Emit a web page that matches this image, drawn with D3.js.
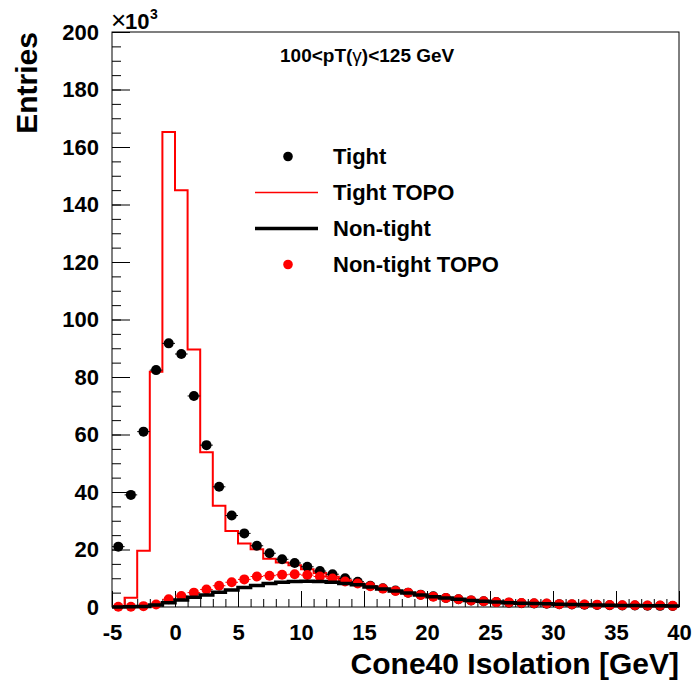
<!DOCTYPE html>
<html>
<head>
<meta charset="utf-8">
<script src="https://cdn.jsdelivr.net/npm/d3@7"></script>
<style>
  html, body { margin: 0; padding: 0; background: #fff; }
  svg { display: block; }
  text { font-family: "Liberation Sans", Arial, Helvetica, sans-serif; font-weight: bold; }
</style>
</head>
<body>
<svg id="chart" width="695" height="683"></svg>
<script>
// ---- data (entries in units of 10^3), 1 GeV bins from -5 to 40 ----
const binEdges = d3.range(-5, 41, 1);
const binCenters = d3.range(-4.5, 40, 1);

const tight = [21.0, 39.0, 61.0, 82.4, 91.7, 88.0, 73.4, 56.3, 41.8, 31.8,
  25.6, 21.3, 18.7, 16.6, 15.3, 14.0, 12.5, 11.4, 10.0, 8.8,
  7.4, 6.5, 5.7, 5.0, 4.3, 3.7, 3.1, 2.7, 2.3, 2.0,
  1.7, 1.5, 1.3, 1.2, 1.1, 1.0, 0.9, 0.8, 0.7, 0.6,
  0.55, 0.5, 0.45, 0.4, 0.35];

const tightTopo = [0.3, 3.2, 19.6, 81.8, 165.2, 145.0, 89.6, 53.8, 35.2, 26.4,
  22.1, 20.1, 16.8, 15.5, 14.5, 13.1, 11.8, 10.5, 9.3, 8.2,
  7.2, 6.3, 5.5, 4.9, 4.2, 3.6, 3.1, 2.7, 2.3, 2.0,
  1.7, 1.5, 1.3, 1.2, 1.1, 1.0, 0.9, 0.8, 0.7, 0.6,
  0.55, 0.5, 0.45, 0.4, 0.35];

const nonTight = [0.0, 0.05, 0.2, 0.7, 1.5, 2.4, 3.4, 4.2, 5.1, 5.9,
  6.8, 7.5, 8.2, 8.6, 8.9, 9.0, 8.9, 8.6, 8.2, 7.7,
  7.0, 6.3, 5.6, 4.9, 4.2, 3.6, 3.1, 2.7, 2.3, 2.0,
  1.7, 1.5, 1.3, 1.2, 1.1, 1.0, 0.9, 0.8, 0.7, 0.6,
  0.55, 0.5, 0.45, 0.4, 0.35];

const nonTightTopo = [0.1, 0.1, 0.3, 0.9, 2.7, 3.8, 5.0, 6.1, 7.4, 8.6,
  9.6, 10.6, 10.9, 11.2, 11.4, 11.1, 10.6, 9.9, 8.9, 8.2,
  7.2, 6.4, 5.6, 5.0, 4.2, 3.6, 3.1, 2.7, 2.3, 2.0,
  1.7, 1.6, 1.4, 1.3, 1.2, 1.0, 1.0, 0.9, 0.8, 0.7,
  0.6, 0.6, 0.5, 0.5, 0.4];

const xTicks = [-5, 0, 5, 10, 15, 20, 25, 30, 35, 40];
const yTicks = [0, 20, 40, 60, 80, 100, 120, 140, 160, 180, 200];
const legendLabels = ["Tight", "Tight TOPO", "Non-tight", "Non-tight TOPO"];
const xTitle = "Cone40 Isolation [GeV]";
const yTitle = "Entries";

// ---- layout ----
const L = 112, R = 679, T = 32, B = 607;
const svg = d3.select("#chart");
const x = d3.scaleLinear().domain([-5, 40]).range([L, R]);
const y = d3.scaleLinear().domain([0, 200]).range([B, T]);
const fmt = d => String(d);

// axes: minor ticks
svg.append("g").attr("transform", `translate(0,${B})`)
  .call(d3.axisBottom(x).tickValues(d3.range(-5, 41, 1)).tickSize(-8).tickFormat(""))
  .call(g => g.select(".domain").remove())
  .call(g => g.selectAll("line").attr("stroke", "#000").attr("stroke-width", 1));
svg.append("g").attr("transform", `translate(${L},0)`)
  .call(d3.axisLeft(y).tickValues(d3.range(0, 201, 5)).tickSize(-9).tickFormat(""))
  .call(g => g.select(".domain").remove())
  .call(g => g.selectAll("line").attr("stroke", "#000").attr("stroke-width", 1));

// major ticks + labels
svg.append("g").attr("transform", `translate(0,${B})`)
  .call(d3.axisBottom(x).tickValues(xTicks).tickSize(-16).tickPadding(17).tickFormat(fmt))
  .call(g => g.select(".domain").remove())
  .call(g => g.selectAll("line").attr("stroke", "#000").attr("stroke-width", 1))
  .call(g => g.selectAll("text").attr("font-size", 22).attr("fill", "#000")
    .attr("font-family", "Liberation Sans, Arial, sans-serif").attr("font-weight", "bold"));
svg.append("g").attr("transform", `translate(${L},0)`)
  .call(d3.axisLeft(y).tickValues(yTicks).tickSize(-18).tickPadding(13).tickFormat(fmt))
  .call(g => g.select(".domain").remove())
  .call(g => g.selectAll("line").attr("stroke", "#000").attr("stroke-width", 1))
  .call(g => g.selectAll("text").attr("font-size", 22).attr("fill", "#000")
    .attr("font-family", "Liberation Sans, Arial, sans-serif").attr("font-weight", "bold"));

// frame
svg.append("rect").attr("x", L).attr("y", T).attr("width", R - L).attr("height", B - T)
  .attr("fill", "none").attr("stroke", "#000").attr("stroke-width", 1);

// step helper
function stepPoints(vals) {
  const pts = [];
  vals.forEach((v, i) => { pts.push([binEdges[i], v]); pts.push([binEdges[i + 1], v]); });
  return pts;
}
const line = d3.line().x(d => x(d[0])).y(d => y(d[1]));

const plot = svg.append("g");

// Tight TOPO histogram (red thin)
plot.append("path").attr("d", line(stepPoints(tightTopo)))
  .attr("fill", "none").attr("stroke", "#ff0000").attr("stroke-width", 2);

// Tight points (black)
const tightData = binCenters.map((c, i) => ({ c, v: tight[i] }));
plot.append("g").selectAll("line").data(tightData).join("line")
  .attr("x1", d => x(d.c - 0.5)).attr("x2", d => x(d.c + 0.5))
  .attr("y1", d => y(d.v)).attr("y2", d => y(d.v))
  .attr("stroke", "#000").attr("stroke-width", 1);
plot.append("g").selectAll("circle").data(tightData).join("circle")
  .attr("cx", d => x(d.c)).attr("cy", d => y(d.v)).attr("r", 5).attr("fill", "#000");

// Non-tight TOPO points (red)
const ntTopoData = binCenters.map((c, i) => ({ c, v: nonTightTopo[i] }));
plot.append("g").selectAll("line").data(ntTopoData).join("line")
  .attr("x1", d => x(d.c - 0.5)).attr("x2", d => x(d.c + 0.5))
  .attr("y1", d => y(d.v)).attr("y2", d => y(d.v))
  .attr("stroke", "#ff0000").attr("stroke-width", 1);
plot.append("g").selectAll("circle").data(ntTopoData).join("circle")
  .attr("cx", d => x(d.c)).attr("cy", d => y(d.v)).attr("r", 5).attr("fill", "#ff0000");

// Non-tight histogram (black thick)
plot.append("path").attr("d", line(stepPoints(nonTight)))
  .attr("fill", "none").attr("stroke", "#000").attr("stroke-width", 3.5);

// ---- legend ----
const leg = svg.append("g");
const legY = [164, 200, 236, 272];
const legendSym = ["dotBlack", "lineRed", "lineBlack", "dotRed"];
leg.selectAll("text").data(legendLabels).join("text")
  .attr("x", 333).attr("y", (d, i) => legY[i]).attr("font-size", 22).attr("fill", "#000").text(d => d);
legendSym.forEach((s, i) => {
  const cy = legY[i] - 7.5;
  if (s.startsWith("dot")) {
    leg.append("circle").attr("cx", 288).attr("cy", cy).attr("r", 4.8)
      .attr("fill", s === "dotBlack" ? "#000" : "#ff0000");
  } else {
    leg.append("line").attr("x1", 255).attr("x2", 318).attr("y1", cy).attr("y2", cy)
      .attr("stroke", s === "lineRed" ? "#ff0000" : "#000")
      .attr("stroke-width", s === "lineRed" ? 1.5 : 3.5);
  }
});

// ---- titles ----
svg.append("text").attr("x", R).attr("y", 674).attr("text-anchor", "end")
  .attr("font-size", 30).attr("fill", "#000").text(xTitle);
svg.append("text").attr("transform", `translate(37,${T}) rotate(-90)`).attr("text-anchor", "end")
  .attr("font-size", 30).attr("fill", "#000").text(yTitle);

// exponent (×10^3)
svg.append("text").attr("x", 111).attr("y", 29).attr("fill", "#000")
  .style("font-size", "26px").style("font-weight", "normal").text("×");
svg.append("text").attr("x", 125).attr("y", 29).attr("fill", "#000")
  .style("font-size", "22px").text("10");
svg.append("text").attr("x", 150).attr("y", 19).attr("fill", "#000")
  .style("font-size", "14px").text("3");

// pT label
const pt = svg.append("text").attr("x", 280).attr("y", 62).style("font-size", "19px").attr("fill", "#000");
pt.append("tspan").text("100<pT(");
pt.append("tspan").style("font-weight", "normal").text("γ");
pt.append("tspan").text(")<125 GeV");
</script>
</body>
</html>
